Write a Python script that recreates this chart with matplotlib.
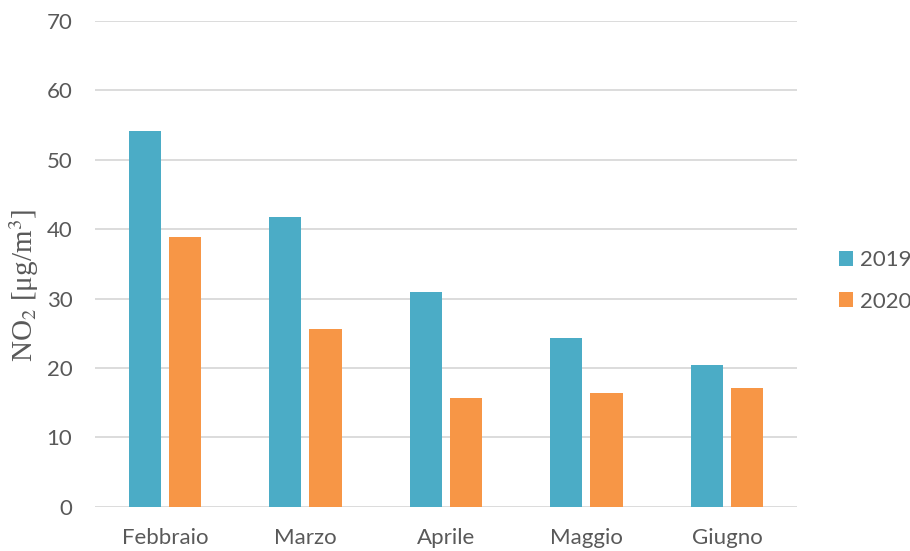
import matplotlib
matplotlib.use("Agg")
import matplotlib.pyplot as plt
import numpy as np

months = ["Febbraio", "Marzo", "Aprile", "Maggio", "Giugno"]
years = ["2019", "2020"]
v2019 = [54.1, 41.7, 31.0, 24.4, 20.5]
v2020 = [38.9, 25.6, 15.7, 16.4, 17.1]
colors = ["#4BACC6", "#F79646"]
yticks = [0, 10, 20, 30, 40, 50, 60, 70]

fig = plt.figure(figsize=(9.1, 5.51), dpi=100)
ax = fig.add_axes([0.104, 0.080, 0.772, 0.882])

x = np.arange(len(months))
w = 0.229
off = 0.143
ax.bar(x - off, v2019, w, color=colors[0], label=years[0], zorder=3)
ax.bar(x + off, v2020, w, color=colors[1], label=years[1], zorder=3)

ax.set_xlim(-0.5, len(months) - 0.5)
ax.set_ylim(0, 70)
ax.set_yticks(yticks)
ax.set_xticks(x)
ax.set_xticklabels(months)
ax.grid(axis="y", color="#D9D9D9", linewidth=1.3, zorder=0)
for s in ax.spines.values():
    s.set_visible(False)
ax.tick_params(length=0, labelsize=16, labelcolor="#595959")
ax.tick_params(axis="x", pad=15)
ax.tick_params(axis="y", pad=16)
for lbl in ax.get_xticklabels() + ax.get_yticklabels():
    lbl.set_fontfamily("Lato")

ax.set_ylabel(r"NO$_2$ [μg/m$^3$]", fontsize=21, family="Liberation Serif",
              color="#595959")
ax.yaxis.label.set_math_fontfamily("stix")
ax.yaxis.set_label_coords(-0.076, 0.455)

leg = fig.legend(loc="center left", bbox_to_anchor=(0.922, 0.49), frameon=False,
                 prop={"family": "Lato", "size": 16}, handlelength=0.65,
                 handleheight=0.65, handletextpad=0.3, labelspacing=0.95,
                 borderpad=0, borderaxespad=0)
for t in leg.get_texts():
    t.set_color("#595959")

fig.savefig("out.png", dpi=100)
